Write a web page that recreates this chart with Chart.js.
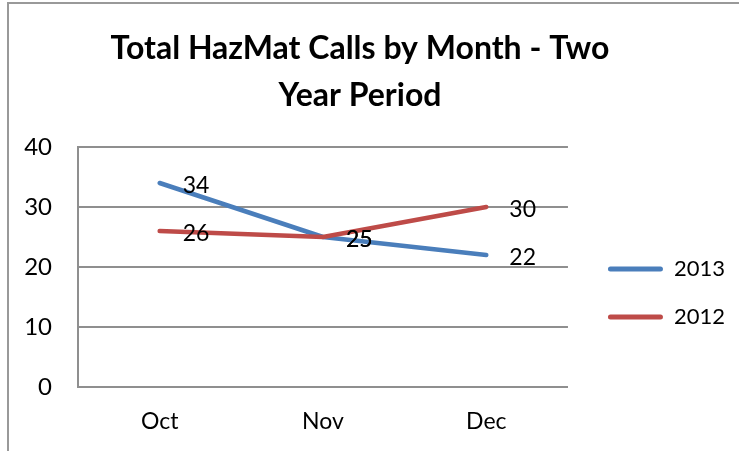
<!DOCTYPE html>
<html>
<head>
<meta charset="utf-8">
<script src="https://cdn.jsdelivr.net/npm/chart.js@4/dist/chart.umd.min.js"></script>
<style>
  html, body { margin: 0; padding: 0; background: #fff; }
  #wrap { position: relative; width: 739px; height: 451px; overflow: hidden; }
  #frame { position: absolute; left: 7px; top: 2px; width: 800px; height: 600px;
           border-left: 2px solid #999; border-top: 2px solid #999; }
  #chart { position: absolute; left: 0; top: 0; }
</style>
</head>
<body>
<div id="wrap">
  <div id="frame"></div>
  <canvas id="chart" width="739" height="451"></canvas>
</div>
<script>
var months = ['Oct', 'Nov', 'Dec'];
var calls2013 = [34, 25, 22];
var calls2012 = [26, 25, 30];
var yTicks = [0, 10, 20, 30, 40];

var FONT = 'Lato';

// value labels right of each point, like Excel's "Right" label position
var valueLabels = {
    id: 'valueLabels',
    afterDatasetsDraw: function(chart) {
        var ctx = chart.ctx;
        ctx.save();
        ctx.font = '23px ' + FONT;
        ctx.fillStyle = '#000';
        ctx.textAlign = 'left';
        ctx.textBaseline = 'middle';
        chart.data.datasets.forEach(function(ds, i) {
            var meta = chart.getDatasetMeta(i);
            meta.data.forEach(function(pt, j) {
                ctx.fillText(String(ds.data[j]), pt.x + 23, pt.y + 3);
            });
        });
        ctx.restore();
    }
};

var chart_hazmat = new Chart(document.getElementById('chart'), {
    type: 'line',
    data: {
        labels: months,
        datasets: [
            {
                label: '2013',
                data: calls2013,
                borderColor: '#4A7EBB',
                backgroundColor: '#4A7EBB',
                borderWidth: 4.5,
                borderCapStyle: 'round',
                borderJoinStyle: 'round',
                pointRadius: 0,
                tension: 0,
                order: 1
            },
            {
                label: '2012',
                data: calls2012,
                borderColor: '#BE4B48',
                backgroundColor: '#BE4B48',
                borderWidth: 4.5,
                borderCapStyle: 'round',
                borderJoinStyle: 'round',
                pointRadius: 0,
                tension: 0,
                order: 0
            }
        ]
    },
    options: {
        responsive: false,
        animation: false,
        layout: { padding: { left: -15, right: 4, top: 0, bottom: 0 } },
        plugins: {
            title: {
                display: true,
                text: ['Total HazMat Calls by Month - Two', 'Year Period'],
                color: '#000',
                font: { family: FONT, weight: 'bold', size: 32, lineHeight: '47px' },
                padding: { top: 25, bottom: 28 }
            },
            legend: {
                position: 'right',
                fullSize: false,
                labels: {
                    color: '#000',
                    font: { family: FONT, size: 22, lineHeight: '8px' },
                    boxWidth: 55,
                    boxHeight: 5,
                    padding: 40,
                    generateLabels: function(chart) {
                        return chart.data.datasets.map(function(ds, i) {
                            return {
                                text: [ds.label],
                                fillStyle: ds.borderColor,
                                strokeStyle: ds.borderColor,
                                lineWidth: 0,
                                borderRadius: 2.5,
                                fontColor: '#000',
                                datasetIndex: i
                            };
                        });
                    }
                },
                title: { display: true, text: ' ', font: { size: 10 }, padding: 13 }
            },
            tooltip: { enabled: false }
        },
        scales: {
            x: {
                offset: true,
                grid: { display: false, drawTicks: false },
                border: { display: true, color: '#8f8f8f', width: 2 },
                ticks: { color: '#000', font: { family: FONT, size: 23 }, padding: 21 },
                afterFit: function(scale) { scale.height = 64; }
            },
            y: {
                min: 0,
                max: 40,
                afterBuildTicks: function(scale) {
                    scale.ticks = yTicks.map(function(v) { return { value: v }; });
                },
                grid: { color: '#8f8f8f', lineWidth: 2, drawTicks: false },
                border: { display: true, color: '#8f8f8f', width: 2 },
                ticks: { color: '#000', font: { family: FONT, size: 24 }, padding: 26 },
                afterFit: function(scale) { scale.width = 93; }
            }
        }
    },
    plugins: [valueLabels]
});
</script>
</body>
</html>
